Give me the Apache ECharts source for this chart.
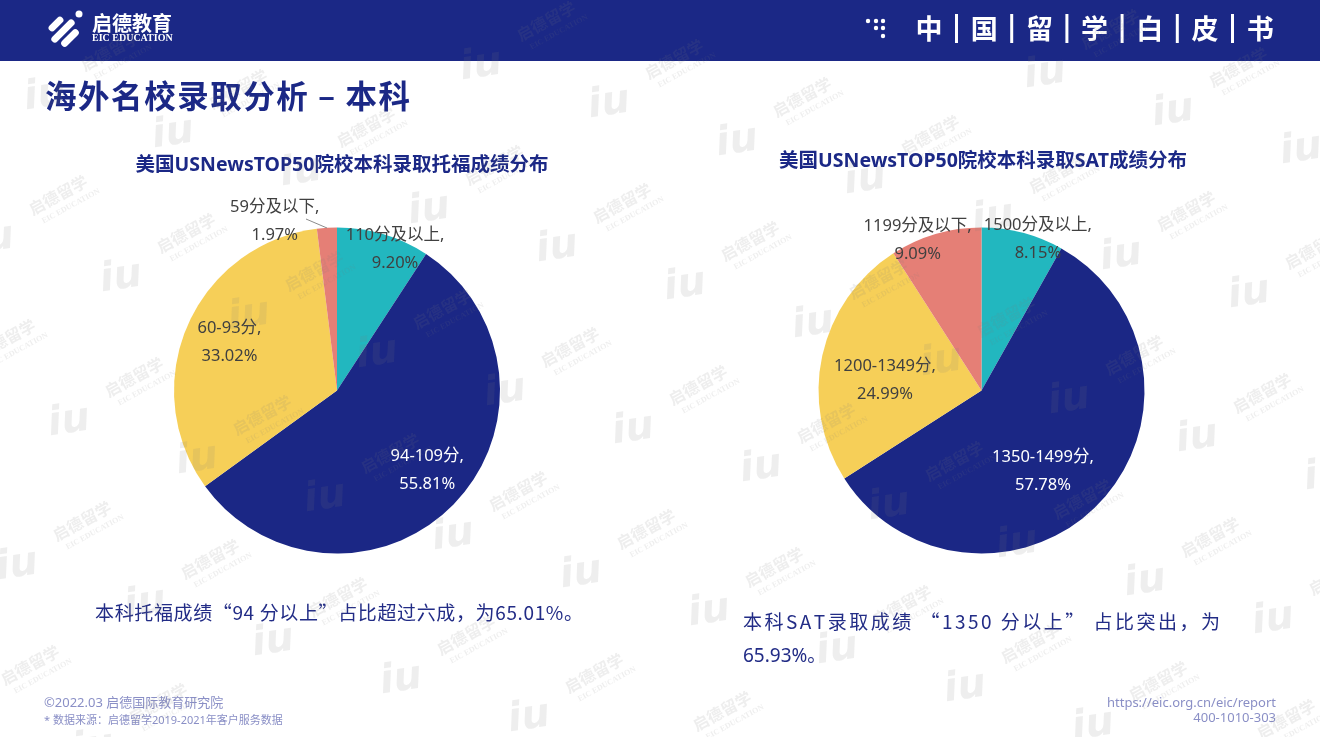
<!DOCTYPE html>
<html><head><meta charset="utf-8">
<script src="https://cdn.jsdelivr.net/npm/echarts@6/dist/echarts.min.js"></script>
<style>html,body{margin:0;padding:0;background:#fff}#c{width:1320px;height:737px}</style>
</head><body><div id="c"></div>
<script>
// ---- data ----
const toeflTitle = '美国USNewsTOP50院校本科录取托福成绩分布';
const toeflCategories = ['110分及以上', '94-109分', '60-93分', '59分及以下'];
const toeflValues = [9.20, 55.81, 33.02, 1.97];
const satTitle = '美国USNewsTOP50院校本科录取SAT成绩分布';
const satCategories = ['1500分及以上', '1350-1499分', '1200-1349分', '1199分及以下'];
const satValues = [8.15, 57.78, 24.99, 9.09];
const headerChars = ['中', '国', '留', '学', '白', '皮', '书'];
const pageTitle = '海外名校录取分析 – 本科';
const toeflCaption = '本科托福成绩“94 分以上”占比超过六成，为65.01%。';
const satCaption1 = '本科SAT录取成绩 “1350 分以上” 占比突出，为';
const satCaption2 = '65.93%。';
const footerLeft = ['©2022.03 启德国际教育研究院', '* 数据来源：启德留学2019-2021年客户服务数据'];
const footerRight = ['https://eic.org.cn/eic/report', '400-1010-303'];

// ---- styles ----
const FONT = "'Noto Sans','Noto Sans CJK SC',sans-serif";
const CJK = "'Noto Sans CJK SC','Noto Sans',sans-serif";
const NAVY = '#1b2886';
const TXT = '#222c86';
const sliceColors = ['#22b7bf', '#1b2785', '#f6cf58', '#e57f76'];
const labelColors = ['#404040', '#ffffff', '#404040', '#404040'];
const toeflLabelOffsets = [[34, -60], [29, 22], [-30, -15], [-57, -85]];
const satLabelOffsets = [[35, -69], [0, 23], [-14, 8], [-40, -69]];

const chart = echarts.init(document.getElementById('c'), null, {renderer: 'canvas'});

function pieSeries(cats, vals, center, offsets) {
  return {
    type: 'pie', center: center, radius: 163, startAngle: 90, clockwise: true,
    avoidLabelOverlap: false, silent: true, animation: false,
    label: {
      show: true, position: 'inside', fontFamily: FONT, fontSize: 16.5, lineHeight: 28,
      formatter: p => p.name + ',\n' + p.value.toFixed(2) + '%'
    },
    labelLine: {show: false},
    itemStyle: {borderWidth: 0},
    emphasis: {disabled: true},
    data: cats.map((n, i) => ({
      name: n, value: vals[i],
      itemStyle: {color: sliceColors[i]},
      label: {color: labelColors[i], offset: offsets[i]}
    }))
  };
}

// text spread evenly over a given width (justified text)
function spacedText(str, x, y, width, font, color) {
  const ctx = document.createElement('canvas').getContext('2d');
  ctx.font = font;
  const chars = [...str];
  const ws = chars.map(c => ctx.measureText(c).width);
  const total = ws.reduce((a, b) => a + b, 0);
  const gap = (width - total) / (chars.length - 1);
  const els = [];
  let cx = x;
  chars.forEach((c, i) => {
    els.push({type: 'text', x: cx, y: y, z: 20, style: {text: c, fill: color, font: font, textVerticalAlign: 'middle'}});
    cx += ws[i] + gap;
  });
  return els;
}

const g = [];
// header bar
g.push({type: 'rect', shape: {x: 0, y: 0, width: 1320, height: 61}, style: {fill: NAVY}, z: 1});
// logo icon (approximation)
[[-10, 18], [0, 30], [10, 22]].forEach(b => {
  g.push({type: 'rect', x: 66 + b[0] * 0.7 - 3, y: 29 + b[0] * 0.7 + 2, rotation: Math.PI / 4, z: 3,
    shape: {x: -b[1] / 2, y: -3.5, width: b[1], height: 7, r: 3.5}, style: {fill: '#fff'}});
});
g.push({type: 'circle', shape: {cx: 79, cy: 14, r: 3.5}, style: {fill: '#fff'}, z: 3});
g.push({type: 'text', x: 92, y: 23, z: 3, style: {text: '启德教育', fill: '#fff', font: "bold 20px 'Noto Sans CJK SC'", textVerticalAlign: 'middle'}});
g.push({type: 'text', x: 92, y: 38, z: 3, style: {text: 'EIC EDUCATION', fill: '#fff', font: "bold 10px 'Liberation Serif',serif", textVerticalAlign: 'middle'}});
// dots icon
[[868, 21], [876, 21], [883, 21], [876, 28], [883, 28], [883, 36]].forEach(d =>
  g.push({type: 'circle', shape: {cx: d[0], cy: d[1], r: 2.2}, style: {fill: '#fff'}, z: 3}));
headerChars.forEach((c, i) => {
  const cx = 929 + i * 55.2;
  g.push({type: 'text', x: cx, y: 29, z: 3, style: {text: c, fill: '#fff', font: "bold 27px 'Noto Sans CJK SC'", textAlign: 'center', textVerticalAlign: 'middle'}});
  if (i < headerChars.length - 1) g.push({type: 'rect', shape: {x: cx + 26, y: 14, width: 3, height: 29}, style: {fill: '#fff'}, z: 3});
});
// page title
spacedText(pageTitle, 45, 96, 365, "bold 31.5px 'Noto Sans CJK SC'", NAVY).forEach(e => g.push(e));
// chart titles
g.push({type: 'text', x: 342, y: 165, z: 20, style: {text: toeflTitle, fill: NAVY, font: 'bold 19.5px ' + FONT, textAlign: 'center', textVerticalAlign: 'middle'}});
g.push({type: 'text', x: 983, y: 161, z: 20, style: {text: satTitle, fill: NAVY, font: 'bold 19.5px ' + FONT, textAlign: 'center', textVerticalAlign: 'middle'}});
// captions
spacedText(toeflCaption, 95, 613, 488, '19px ' + CJK, TXT).forEach(e => g.push(e));
spacedText(satCaption1, 743, 622, 477, '19px ' + CJK, TXT).forEach(e => g.push(e));
g.push({type: 'text', x: 743, y: 657, z: 20, style: {text: satCaption2, fill: TXT, font: '19px ' + FONT, textVerticalAlign: 'middle'}});
// footer
g.push({type: 'text', x: 44, y: 703, z: 20, style: {text: footerLeft[0], fill: '#8a8fc6', font: '13px ' + FONT, textVerticalAlign: 'middle'}});
g.push({type: 'text', x: 44, y: 721, z: 20, style: {text: footerLeft[1], fill: '#8a8fc6', font: '11px ' + FONT, textVerticalAlign: 'middle'}});
g.push({type: 'text', x: 1276, y: 703, z: 20, style: {text: footerRight[0], fill: '#8a8fc6', font: '13px ' + FONT, textAlign: 'right', textVerticalAlign: 'middle'}});
g.push({type: 'text', x: 1276, y: 718, z: 20, style: {text: footerRight[1], fill: '#8a8fc6', font: '13px ' + FONT, textAlign: 'right', textVerticalAlign: 'middle'}});
// leader line for the small slice label
g.push({type: 'line', shape: {x1: 306, y1: 219, x2: 327, y2: 228}, style: {stroke: '#8c8c8c', lineWidth: 1}, z: 20});

// watermark lattice
const WM = 'rgba(120,120,120,0.13)';
for (let i = -8; i <= 12; i++) {
  for (let j = -4; j <= 6; j++) {
    const x = 737 + i * 128 - j * 52;
    const y = 142 + i * 38 + j * 144;
    if (x < -60 || x > 1380 || y < 40 || y > 780) continue;
    g.push({type: 'text', x: x, y: y, z: 50, silent: true, rotation: 0.15, style: {text: 'iu', fill: WM, font: "italic bold 40px 'DejaVu Sans',sans-serif", textAlign: 'center', textVerticalAlign: 'middle'}});
    g.push({type: 'group', x: x + 65, y: y - 45, rotation: 0.5, z: 50, silent: true, children: [
      {type: 'text', x: 0, y: 0, z: 50, style: {text: '启德留学', fill: WM, font: "bold 16px 'Noto Sans CJK SC'", textAlign: 'center', textVerticalAlign: 'middle'}},
      {type: 'text', x: 6, y: 16, z: 50, style: {text: 'EIC EDUCATION', fill: WM, font: "bold 8px 'Liberation Serif',serif", textAlign: 'center', textVerticalAlign: 'middle'}}
    ]});
  }
}

chart.setOption({
  animation: false,
  backgroundColor: '#ffffff',
  series: [
    pieSeries(toeflCategories, toeflValues, [337, 390.5], toeflLabelOffsets),
    pieSeries(satCategories, satValues, [981.5, 390.5], satLabelOffsets)
  ],
  graphic: {elements: g}
});
</script>
</body></html>
